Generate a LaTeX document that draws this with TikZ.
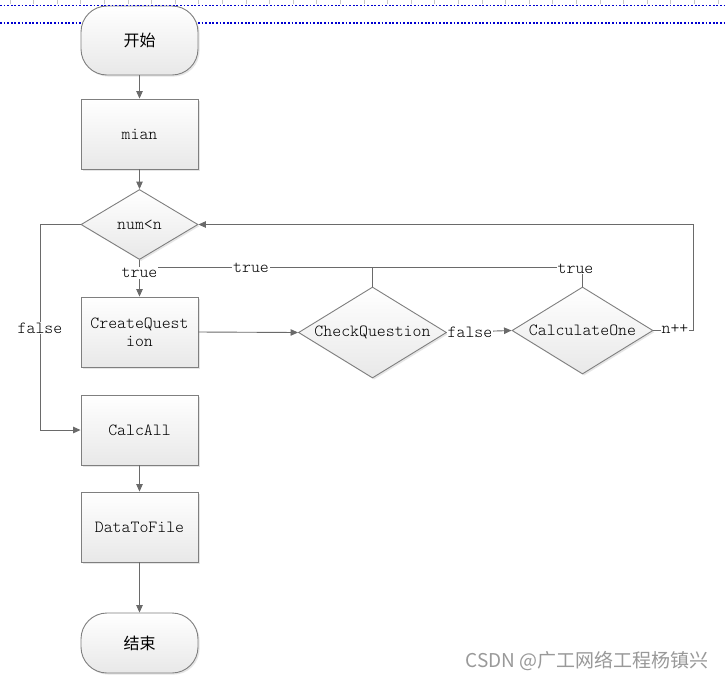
\documentclass[tikz,border=0pt]{standalone}
\usepackage{fontspec}
\newfontfamily\cjk{Noto Sans CJK SC}
\newfontfamily\lmlight{Latin Modern Mono Light}
\usetikzlibrary{arrows.meta,shapes.geometric,shadows}
\definecolor{ln}{HTML}{6A6A6A}
\definecolor{bd}{HTML}{7F7F7F}
\definecolor{dotblue}{HTML}{0000D0}
\tikzset{
  base/.style={draw=bd, line width=0.9pt, top color=white, bottom color=black!9,
    drop shadow={shadow xshift=1.6pt, shadow yshift=-1.6pt, fill=black!25, opacity=0.4},
    font=\fontsize{17}{18}\selectfont\lmlight, align=center, inner sep=0pt},
  procbox/.style={base, rectangle, minimum width=117pt, minimum height=70pt},
  termbox/.style={base, rectangle, rounded corners=26pt, minimum width=117pt, font=\fontsize{16}{18}\selectfont\cjk},
  decbox/.style={base, diamond, inner sep=0pt},
  conn/.style={draw=ln, line width=0.9pt},
  arr/.style={conn, -{Triangle[width=6.5pt,length=7.5pt]}},
  lbl/.style={fill=white, inner sep=0.8pt, font=\fontsize{17}{18}\selectfont\lmlight, text=black}
}
\begin{document}
\begin{tikzpicture}[x=1pt,y=-1pt]
\useasboundingbox (0,0) rectangle (726,681);
\fill[white] (0,0) rectangle (726,681);
% ruler ticks
\foreach \k in {0,...,30} {
  \draw[black!22, line width=0.8pt] ({10+23.6*\k},0) -- ({10+23.6*\k},4);
}
% lower dotted guide line
\draw[dotblue, line width=1.3pt, dash pattern=on 1.8pt off 1.8pt] (0,23) -- (726,23);

% nodes
\node[termbox, minimum height=69pt] (start) at (139.5,40.5) {开始};
\node[procbox] (mian) at (139.5,134) {mian};
\node[decbox, minimum width=117pt, minimum height=70pt, shape aspect=1.67] (num) at (139.5,224.5) {num<n};
\node[procbox] (cq) at (139.5,332) {CreateQuest\\ion};
\node[procbox] (calc) at (139.5,430) {CalcAll};
\node[procbox] (data) at (139.5,527) {DataToFile};
\node[termbox, minimum height=60pt] (end) at (139.5,643) {结束};
\node[decbox, minimum width=148pt, minimum height=91pt, shape aspect=1.63] (check) at (372.5,332.5) {CheckQuestion};
\node[decbox, minimum width=141pt, minimum height=87pt, shape aspect=1.62] (calc1) at (582.5,330.5) {CalculateOne};

% upper dotted guide line (over the start box)
\draw[dotblue, line width=1.3pt, dash pattern=on 1.8pt off 1.8pt] (0,5.5) -- (726,5.5);

% helper coordinates
\coordinate (fl) at (40,224.5);
\coordinate (jn) at (139.5,267.5);
\coordinate (jc) at (372.5,267.5);
\coordinate (tc) at (582.5,267.5);
\coordinate (lp) at (693,330.5);
\coordinate (lt) at (693,224.5);

% connectors
\draw[arr] (start) -- (mian);
\draw[arr] (mian) -- (num);
\draw[conn] (tc) -- (jn);
\draw[conn] (check.north) -- (jc);
\draw[conn] (calc1.north) -- (tc);
\draw[arr] (num.south) -- (cq.north);
\draw[arr] (num.west) -- (fl) |- (calc.west);
\draw[arr] (cq.east) -- (check.west);
\draw[arr] (check.east) -- (calc1.west);
\draw[arr] (calc1.east) -- (lp) -- (lt) -- (num.east);
\draw[arr] (calc) -- (data);
\draw[arr] (data) -- (end);

% labels
\node[lbl] (t1) at (139.5,273) {true};
\node[lbl] (t2) at (251,268) {true};
\node[lbl] (t3) at (575.5,268.5) {true};
\node[lbl] (f1) at (40,328) {false};
\node[lbl] (f2) at (470,332) {false};
\node[lbl] (npp) at (675,329.5) {n++};

% watermark
\node[font=\fontsize{19}{21}\selectfont\cjk, text=black!40, anchor=east, inner sep=0pt] (wm) at (709,661) {CSDN @广工网络工程杨镇兴};
\end{tikzpicture}
\end{document}
